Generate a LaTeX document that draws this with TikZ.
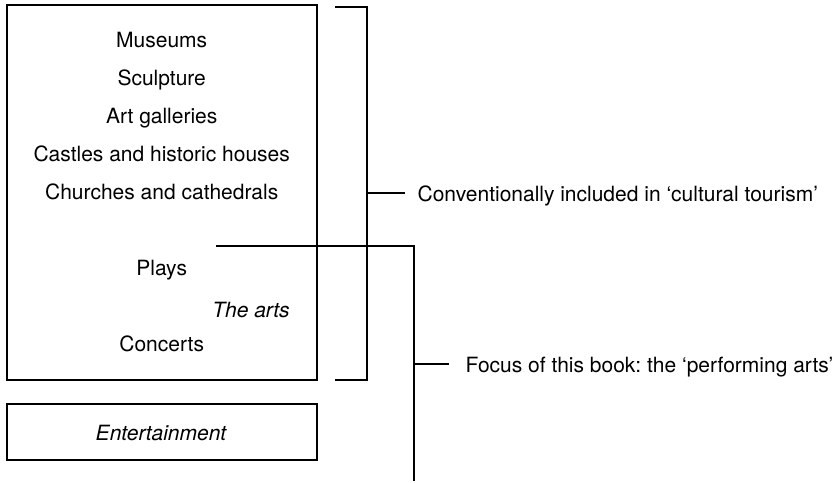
\documentclass[tikz,border=0pt]{standalone}
\usepackage{fontspec}
\setmainfont{TeX Gyre Heros}
\frenchspacing
\begin{document}
\begin{tikzpicture}[x=1pt,y=-1pt,
  line width=1.2pt,
  box/.style={draw,rectangle,inner sep=0pt,minimum width=310pt},
  item/.style={anchor=base,inner sep=0pt,font=\fontsize{21}{25}\selectfont},
  note/.style={anchor=base west,inner sep=0pt,font=\fontsize{21}{25}\selectfont}]
\useasboundingbox (0,0) rectangle (838,482);

% outer boxes
\node[box,minimum height=375pt] (arts) at (162,192.5) {};
\node[box,minimum height=56pt] (ent) at (162,432) {};

% items inside the arts box
\node[item] (museums) at (161.7,47) {Museums};
\node[item] (sculpture) at (161.7,85) {Sculpture};
\node[item] (galleries) at (161.7,123) {Art galleries};
\node[item] (castles) at (161.7,161) {Castles and historic houses};
\node[item] (churches) at (161.7,199) {Churches and cathedrals};
\node[item] (plays) at (161.7,275) {Plays};
\node[item] (thearts) at (251,317) {\itshape The arts};
\node[item] (concerts) at (161.7,351) {Concerts};
\node[item] (entlabel) at (161,440) {\itshape Entertainment};

% bracket: cultural tourism
\coordinate (c1a) at (335,7);
\coordinate (c1b) at (367,7);
\coordinate (c1c) at (367,380);
\coordinate (c1d) at (335,380);
\coordinate (c1m) at (367,193);
\coordinate (c1t) at (405,193);
\draw (c1a) -- (c1b) -- (c1c) -- (c1d);
\draw (c1m) -- (c1t);
\node[note] (cultural) at (417,201) {Conventionally included in ‘cultural tourism’};

% bracket: performing arts
\coordinate (c2a) at (216,246);
\coordinate (c2b) at (414,246);
\coordinate (c2c) at (414,481);
\coordinate (c2m) at (414,364);
\coordinate (c2t) at (449,364);
\draw (c2a) -- (c2b) -- (c2c);
\draw (c2m) -- (c2t);
\node[note] (performing) at (465,372) {Focus of this book: the ‘performing arts’};
\end{tikzpicture}
\end{document}
